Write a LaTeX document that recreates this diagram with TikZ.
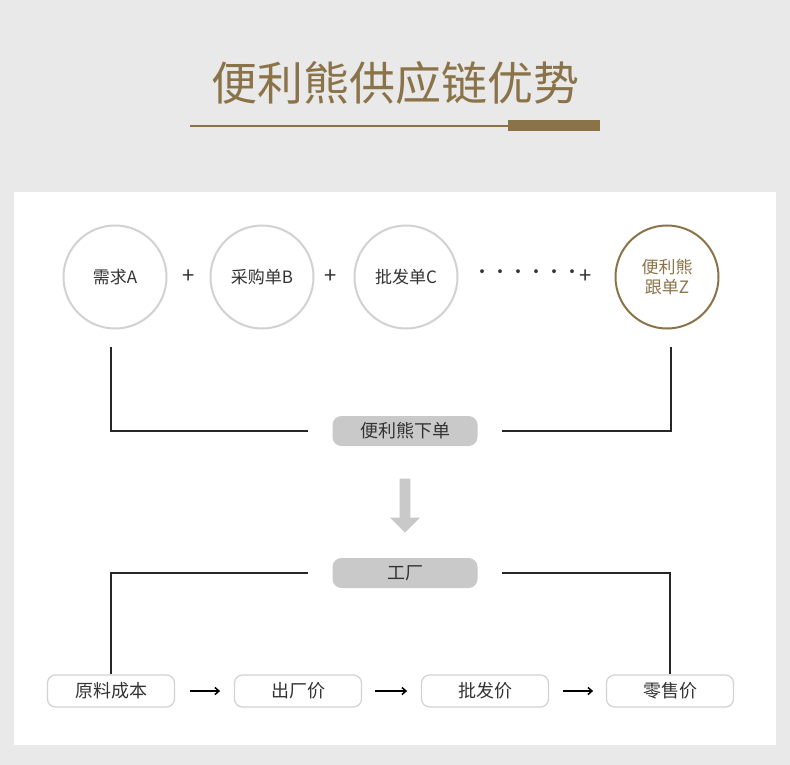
\documentclass[tikz,border=0pt]{standalone}
\usepackage{fontspec}
\setmainfont{Noto Sans CJK SC}
\usetikzlibrary{arrows.meta,shapes.arrows}
\definecolor{brn}{HTML}{8B7349}
\definecolor{bg}{HTML}{E9E9E9}
\definecolor{cg}{HTML}{D2D2D2}
\definecolor{pg}{HTML}{C9C9C9}
\definecolor{tx}{HTML}{333333}
\begin{document}
\begin{tikzpicture}[x=1pt,y=-1pt,
 circ/.style={circle,draw=cg,line width=2pt,minimum size=103pt,inner sep=0pt,font=\fontsize{17}{20}\selectfont,text=tx,align=center},
 pill/.style={rounded corners=9pt,fill=pg,minimum width=145pt,minimum height=30pt,font=\fontsize{18}{20}\selectfont,text=tx},
 box/.style={rounded corners=8pt,draw=cg,line width=1.2pt,fill=white,minimum width=127pt,minimum height=32pt,font=\fontsize{18}{20}\selectfont,text=tx},
 plus/.style={font=\fontsize{22}{22}\selectfont,text=tx},
 ln/.style={line width=1.5pt,black!85},
 ar/.style={line width=1.5pt,-{Straight Barb[length=4pt,width=7pt]}}]
\useasboundingbox (0,0) rectangle (790,765);
\fill[bg] (0,0) rectangle (790,765);
\fill[white] (14,192) rectangle (776,745);
\node[text=brn,font=\fontsize{46}{50}\selectfont] (title) at (395,83) {便利熊供应链优势};
\draw[brn,line width=1.5pt] (190,126) -- (600,126);
\fill[brn] (508,120) rectangle (600,131);
\node[circ] (a) at (115,277) {需求A};
\node[circ] (b) at (262,277) {采购单B};
\node[circ] (c) at (406,277) {批发单C};
\node[circ,draw=brn,text=brn] (z) at (667,277) {便利熊\\跟单Z};
\node[plus] (p1) at (189,277) {+};
\node[plus] (p2) at (331,277) {+};
\node[plus] (p3) at (586,277) {+};
\node[font=\fontsize{18}{20}\selectfont,text=tx] (dots) at (527,274) {······};
\node[pill] (order) at (405,431) {便利熊下单};
\node[pill] (fac) at (405,573) {工厂};
\coordinate (la) at (111,347); \coordinate (lz) at (671,347);
\draw[ln] (la) |- (order.west -| 308,0);
\draw[ln] (lz) |- (order.east -| 502,0);
\node[single arrow,fill=pg,draw=none,rotate=-90,minimum height=54pt,minimum width=30pt,single arrow head extend=4pt,inner sep=2pt] (dn) at (405,503) {};
\node[box] (r1) at (111,691) {原料成本};
\node[box] (r2) at (298,691) {出厂价};
\node[box] (r3) at (485,691) {批发价};
\node[box] (r4) at (670,691) {零售价};
\draw[ln] (fac.west -| 308,0) -| (r1.north);
\draw[ln] (fac.east -| 502,0) -| (r4.north);
\draw[ar] (r1.east)++(15,0) -- ++(30,0);
\draw[ar] (r2.east)++(13,0) -- ++(32,0);
\draw[ar] (r3.east)++(14,0) -- ++(30,0);
\end{tikzpicture}
\end{document}
